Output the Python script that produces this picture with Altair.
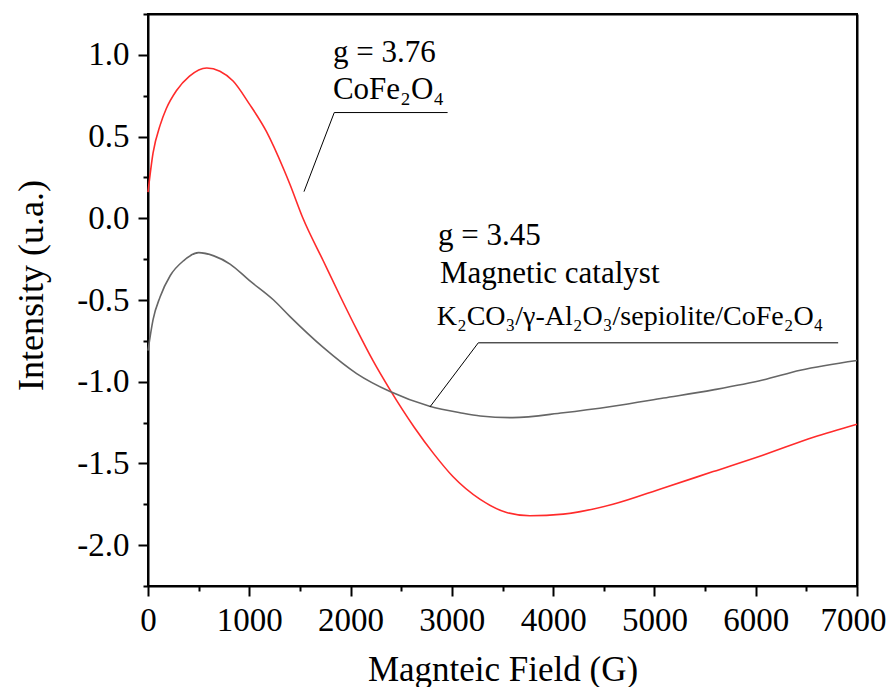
import altair as alt
import pandas as pd

# ---- data ----
field_red = [0, 50, 120, 180, 280, 410, 580, 710, 840, 1000, 1170, 1340, 1400, 1530,
             1730, 1900, 2060, 2220, 2390, 2630, 2820, 3010, 3280, 3540, 3770, 4100,
             4590, 5090, 5580, 6070, 6570, 7000]
int_red = [0.16, 0.40, 0.57, 0.67, 0.78, 0.87, 0.92, 0.90, 0.84, 0.70, 0.53, 0.30, 0.21, 0.0,
           -0.26, -0.48, -0.68, -0.87, -1.05, -1.28, -1.44, -1.58, -1.72, -1.80, -1.82, -1.81,
           -1.75, -1.65, -1.55, -1.45, -1.34, -1.26]

field_gray = [0, 50, 120, 220, 350, 500, 650, 810, 1000, 1240, 1400, 1730, 2060, 2390,
              2780, 3080, 3280, 3600, 4100, 4590, 5090, 5580, 6070, 6440, 7000]
int_gray = [-0.81, -0.62, -0.48, -0.35, -0.26, -0.21, -0.23, -0.28, -0.38, -0.50, -0.60,
            -0.79, -0.95, -1.06, -1.15, -1.19, -1.21, -1.22, -1.19, -1.15, -1.10, -1.05,
            -0.99, -0.93, -0.87]

series_names = ["CoFe2O4", "Magnetic catalyst"]
series_colors = ["#ff2b2b", "#666666"]

x_major = [0, 1000, 2000, 3000, 4000, 5000, 6000, 7000]
x_last = [7000]
x_minor = [500, 1500, 2500, 3500, 4500, 5500, 6500]
y_major = [-2.0, -1.5, -1.0, -0.5, 0.0, 0.5, 1.0]
y_minor = [-2.25, -1.75, -1.25, -0.75, -0.25, 0.25, 0.75, 1.25]

ann_text = ["g = 3.76", "CoFe₂O₄", "g = 3.45", "Magnetic catalyst"]
ann_x = [1826, 1826, 2863, 2883]
ann_y = [0.957, 0.731, -0.163, -0.396]

formula_text = ["K₂CO₃/γ-Al₂O₃/sepiolite/CoFe₂O₄"]
formula_x = [2850]
formula_y = [-0.653]

lead_x = [1839, 1839, 3261, 3261]
lead_y = [0.647, 0.647, -0.762, -0.762]
lead_x2 = [2958, 1540, 6814, 2784]
lead_y2 = [0.647, 0.163, -0.762, -1.154]

# ---- tables ----
df = pd.concat([
    pd.DataFrame({"field": field_red, "intensity": int_red, "series": series_names[0]}),
    pd.DataFrame({"field": field_gray, "intensity": int_gray, "series": series_names[1]}),
])
ann = pd.DataFrame({"x": ann_x, "y": ann_y, "t": ann_text})
formula = pd.DataFrame({"x": formula_x, "y": formula_y, "t": formula_text})
leads = pd.DataFrame({"x": lead_x, "y": lead_y, "x2": lead_x2, "y2": lead_y2})

FONT = "Liberation Serif, Times New Roman, DejaVu Serif, serif"
xscale = alt.Scale(domain=[0, 7000], nice=False, zero=False)
yscale = alt.Scale(domain=[-2.25, 1.25], nice=False, zero=False)

ax_common = dict(grid=False, tickColor="black", tickWidth=2,
                 domain=True, domainColor="black", domainWidth=2,
                 labelFont=FONT, labelColor="black", titleFont=FONT,
                 titleColor="black", titleFontWeight="normal")

x_axis = alt.Axis(values=x_major, format="d", tickSize=10, labelFontSize=33, labelPadding=8,
                  labelFlush=False, labelOverlap=False,
                  labelExpr="datum.value == 7000 ? '' : datum.label",
                  title="Magnteic Field (G)", titleFontSize=35, titleX=354.5, titleY=94,
                  titleBaseline="alphabetic", titleAlign="center", orient="bottom",
                  **ax_common)
# last x label, kept inside the page edge
x_last_axis = alt.Axis(values=x_last, format="d", ticks=False, domain=False, grid=False,
                       labelFontSize=33, labelPadding=18, labelFont=FONT,
                       labelColor="black", labelAlign="right", labelOffset=29,
                       labelFlush=False, labelOverlap=False, title=None,
                       orient="bottom")
y_axis = alt.Axis(values=y_major, tickSize=10, labelFontSize=33, labelPadding=9,
                  labelFlush=False, labelOverlap=False,
                  labelExpr="datum.value < 0 ? '-' + format(-datum.value, '.1f') : format(datum.value, '.1f')",
                  title="Intensity (u.a.)", titleFontSize=36, titleX=-106, titleY=271,
                  titleBaseline="alphabetic", titleAlign="center", titleAngle=270,
                  orient="left", **ax_common)

x_minor_axis = alt.Axis(values=x_minor, tickSize=5, labels=False, title=None,
                        orient="bottom", domain=False, grid=False, tickColor="black",
                        tickWidth=2)
y_minor_axis = alt.Axis(values=y_minor, tickSize=5, labels=False, title=None,
                        orient="left", domain=False, grid=False, tickColor="black",
                        tickWidth=2)
# frame on top and right
x_top_axis = alt.Axis(orient="top", ticks=False, labels=False, title=None, grid=False,
                      domain=True, domainColor="black", domainWidth=2)
y_right_axis = alt.Axis(orient="right", ticks=False, labels=False, title=None, grid=False,
                        domain=True, domainColor="black", domainWidth=2)

lines = alt.Chart(df).mark_line(strokeWidth=1.6, interpolate="monotone").encode(
    x=alt.X("field:Q", scale=xscale, axis=x_axis),
    y=alt.Y("intensity:Q", scale=yscale, axis=y_axis),
    color=alt.Color("series:N", scale=alt.Scale(domain=series_names, range=series_colors),
                    legend=None),
    order=alt.Order("field:Q"),
)

leaders = alt.Chart(leads).mark_rule(color="black", strokeWidth=1).encode(
    x=alt.X("x:Q", scale=xscale, axis=x_minor_axis),
    y=alt.Y("y:Q", scale=yscale, axis=y_minor_axis),
    x2="x2:Q",
    y2="y2:Q",
)

texts = alt.Chart(ann).mark_text(align="left", baseline="alphabetic", font=FONT,
                                 fontSize=31, color="black").encode(
    x=alt.X("x:Q", scale=xscale, axis=x_top_axis),
    y=alt.Y("y:Q", scale=yscale, axis=y_right_axis),
    text="t:N",
)

ftext = alt.Chart(formula).mark_text(align="left", baseline="alphabetic", font=FONT,
                                     fontSize=28, color="black").encode(
    x=alt.X("x:Q", scale=xscale, axis=x_last_axis),
    y=alt.Y("y:Q", scale=yscale, axis=None),
    text="t:N",
)

chart = alt.layer(lines, leaders, texts, ftext).resolve_axis(
    x="independent", y="independent"
).properties(
    width=709, height=572,
    padding={"left": 140, "top": 6, "right": 29, "bottom": 101},
    autosize=alt.AutoSizeParams(type="none"),
).configure_view(stroke="black", strokeWidth=2)

chart.save("out.html", embed_options={"renderer": "svg", "actions": False})
